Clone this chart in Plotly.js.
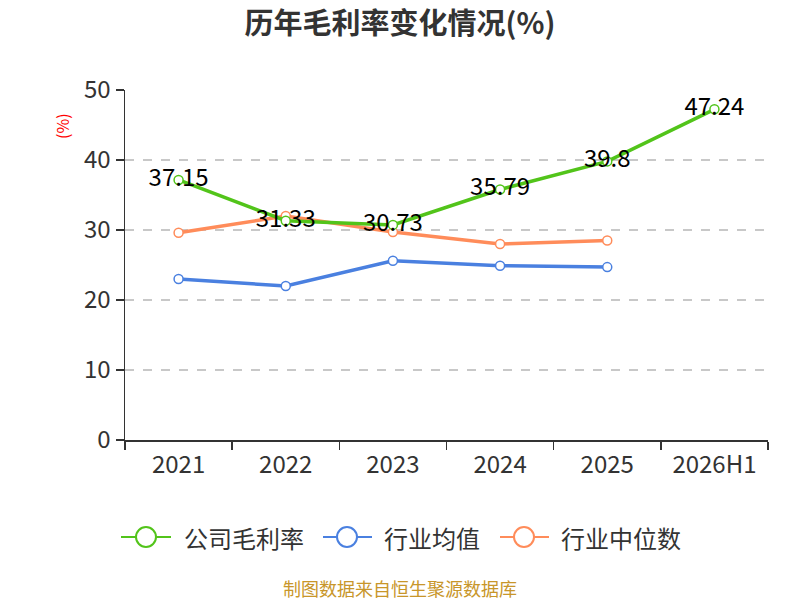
<!DOCTYPE html>
<html><head><meta charset="utf-8">
<script src="https://cdn.plot.ly/plotly-3.0.1.min.js"></script>
<style>html,body{margin:0;padding:0;background:#fff}#c{width:800px;height:600px}</style>
</head><body><div id="c"></div>
<script>
const categories = ["2021","2022","2023","2024","2025","2026H1"];
const companyGross = [37.15, 31.33, 30.73, 35.79, 39.8, 47.24];
const industryAvg = [23.0, 22.0, 25.6, 24.9, 24.7];
const industryMedian = [29.6, 32.0, 29.7, 28.0, 28.5];
const seriesNames = ["公司毛利率","行业均值","行业中位数"];
const colors = ["#52c41a","#4a80e0","#ff8c5a"];
const font = "'Noto Sans CJK SC','Noto Sans',sans-serif";

const M = {l:125, r:32, t:90, b:160};
const PW = 800 - M.l - M.r, PH = 600 - M.t - M.b;
const px2x = p => (p - M.l) / PW;
const py2y = p => (600 - M.b - p) / PH;

function tr(y, i, withText){
  const t = {
    x: categories.slice(0, y.length), y: y, name: seriesNames[i], type: 'scatter',
    mode: withText ? 'lines+markers+text' : 'lines+markers',
    line: {color: colors[i], width: 3.5},
    marker: {symbol: 'circle', size: 9, color: '#fff', line: {color: colors[i], width: 1.5}},
    cliponaxis: false, showlegend: false
  };
  if (withText){
    t.text = y.map(v => String(v));
    t.textposition = 'middle center';
    t.textfont = {size: 24, color: '#000', family: font};
  }
  return t;
}
const data = [tr(industryAvg,1,false), tr(industryMedian,2,false), tr(companyGross,0,true)];

// custom legend (layout decoration)
const legendItems = [
  {i:0, lx0:121, lx1:171, cx:146, tx:182},
  {i:1, lx0:323, lx1:372, cx:347, tx:382},
  {i:2, lx0:500, lx1:549, cx:524, tx:559}
];
const legY = py2y(537);
const shapes = [], annotations = [];
legendItems.forEach(it => {
  shapes.push({type:'line', xref:'paper', yref:'paper', x0:px2x(it.lx0), x1:px2x(it.lx1), y0:legY, y1:legY,
    line:{color:colors[it.i], width:2}});
  shapes.push({type:'circle', xref:'paper', yref:'paper', xsizemode:'pixel', ysizemode:'pixel',
    xanchor:px2x(it.cx), yanchor:legY, x0:-10, x1:10, y0:-10, y1:10,
    fillcolor:'#fff', line:{color:colors[it.i], width:2}});
  annotations.push({text:seriesNames[it.i], xref:'paper', yref:'paper', x:px2x(it.tx), y:legY,
    xanchor:'left', yanchor:'middle', showarrow:false, font:{size:24, color:'#333'}});
});
annotations.push({text: '(%)', xref: 'paper', yref: 'paper', x: px2x(62), y: py2y(126), xanchor: 'center', yanchor: 'middle', textangle: -90,
  showarrow: false, font: {size: 16, color: '#ff0000'}});
annotations.push({text: '制图数据来自恒生聚源数据库', xref: 'paper', yref: 'paper', x: px2x(400), y: py2y(588), xanchor: 'center', yanchor: 'middle',
  showarrow: false, font: {size: 18, color: '#c8962a'}});

const layout = {
  width: 800, height: 600,
  margin: M,
  paper_bgcolor: '#fff', plot_bgcolor: '#fff',
  font: {family: font, color: '#333'},
  title: {text: '<b>历年毛利率变化情况(%)</b>', x: 0.5, xanchor: 'center', y: 1 - 24/600, yanchor: 'middle', font: {size: 29, color: '#333', family: font}},
  xaxis: {type: 'category', tickson: 'boundaries', ticks: 'outside', ticklen: 8, tickwidth: 1.5, tickcolor: '#333',
    showline: true, linecolor: '#333', linewidth: 1.5, showgrid: false, zeroline: false, ticklabelstandoff: 3,
    tickfont: {size: 24, color: '#333'}, range: [-0.5, 5.5]},
  yaxis: {range: [0, 50], dtick: 10, ticks: 'outside', ticklen: 8, tickwidth: 1.5, tickcolor: '#333',
    showline: true, linecolor: '#333', linewidth: 1.5, showgrid: true, gridcolor: '#c8c8c8', griddash: 'dash', gridwidth: 1.2,
    zeroline: false, tickfont: {size: 24, color: '#333'}},
  showlegend: false,
  shapes: shapes,
  annotations: annotations
};
Plotly.newPlot('c', data, layout, {staticPlot: true});
</script></body></html>
